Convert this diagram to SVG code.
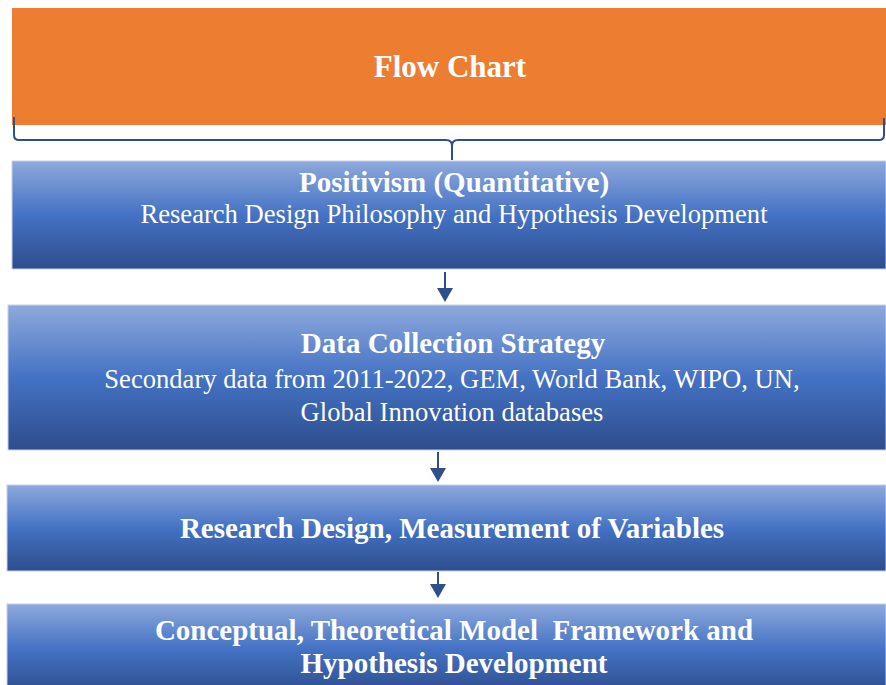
<svg xmlns="http://www.w3.org/2000/svg" width="886" height="685" viewBox="0 0 886 685">
<defs>
<linearGradient id="blueGrad" x1="0" y1="0" x2="0" y2="1">
<stop offset="0" stop-color="#8EA9DC"/>
<stop offset="0.5" stop-color="#4472C4"/>
<stop offset="1" stop-color="#2E4D8C"/>
</linearGradient>
</defs>
<style>
.box { fill: url(#blueGrad); stroke: #C5D0E6; stroke-width: 1; }
.t { font-family: "Liberation Serif", "Times New Roman", serif; fill: #FFFFFF; text-anchor: middle; white-space: pre; }
.b { font-weight: bold; font-size: 29px; }
.r { font-size: 26.6px; }
.conn { stroke: #2F4F8A; stroke-width: 2; fill: none; }
.head { fill: #2F4F8A; }
</style>
<rect width="886" height="685" fill="#FFFFFF"/>
<g id="node-flowchart">
<rect x="12" y="8" width="874" height="117" fill="#ED7D31"/>
<text class="t" x="450" y="77" font-size="31" font-weight="bold">Flow Chart</text>
</g>
<g id="node-positivism">
<rect class="box" x="12" y="161" width="874" height="108"/>
<text class="t b" x="454" y="192">Positivism (Quantitative)</text>
<text class="t r" x="454" y="223">Research Design Philosophy and Hypothesis Development</text>
</g>
<g id="node-datacollection">
<rect class="box" x="8" y="305" width="878" height="145"/>
<text class="t b" x="453" y="353">Data Collection Strategy</text>
<text class="t r" x="452" y="388">Secondary data from 2011-2022, GEM, World Bank, WIPO, UN,</text>
<text class="t r" x="452" y="421">Global Innovation databases</text>
</g>
<g id="node-researchdesign">
<rect class="box" x="7" y="485" width="879" height="86"/>
<text class="t b" x="452" y="538">Research Design, Measurement of Variables</text>
</g>
<g id="node-conceptual">
<rect class="box" x="7" y="604" width="879" height="90"/>
<text class="t b" x="454" y="640" xml:space="preserve">Conceptual, Theoretical Model  Framework and</text>
<text class="t b" x="454" y="673">Hypothesis Development</text>
</g>
<g id="connectors">
<path class="conn" d="M14,117 L14,135 Q14,140 19,140 L446,140 Q452,140 452,146 L452,160"/>
<path class="conn" d="M452,146 Q452,140 458,140 L879,140 Q884,140 884,135 L884,118"/>
<line class="conn" x1="445" y1="272" x2="445" y2="290"/>
<path class="head" d="M437,288 L453,288 L445,302 Z"/>
<line class="conn" x1="438" y1="452" x2="438" y2="470"/>
<path class="head" d="M430,468 L446,468 L438,482 Z"/>
<line class="conn" x1="438" y1="572" x2="438" y2="586"/>
<path class="head" d="M430,584 L446,584 L438,598 Z"/>
</g>
</svg>
